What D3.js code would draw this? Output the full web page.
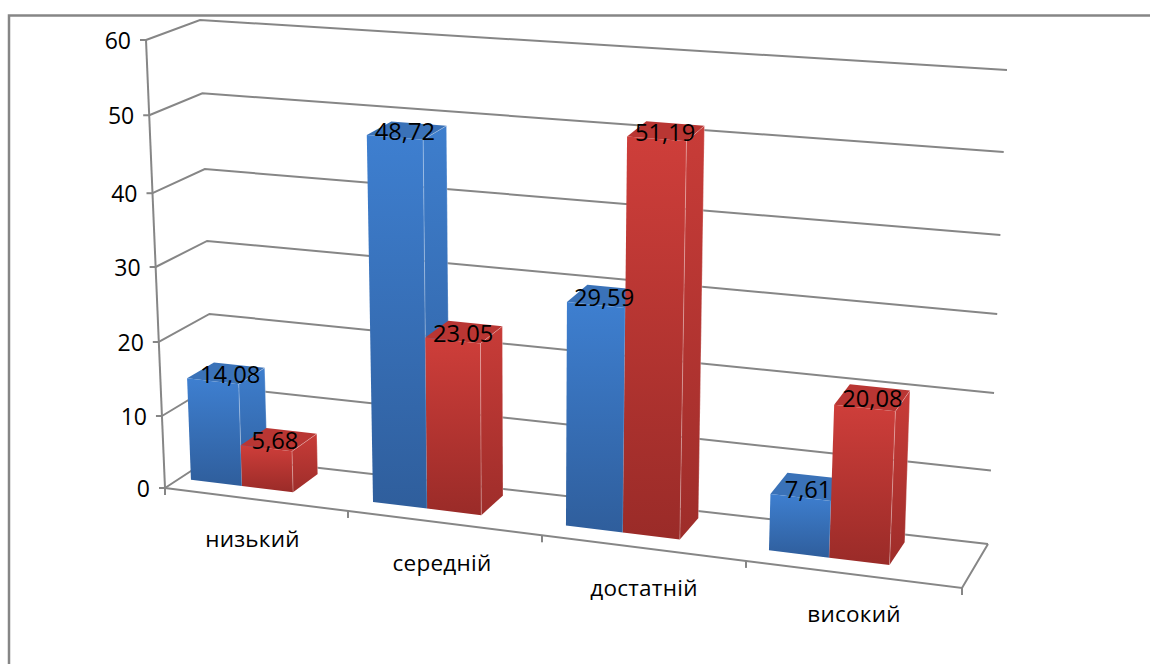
<!DOCTYPE html>
<html>
<head>
<meta charset="utf-8">
<script src="https://cdn.jsdelivr.net/npm/d3@7"></script>
<style>
  html, body { margin: 0; padding: 0; background: #fff; overflow: hidden; }
  text { font-family: "Open Sans", sans-serif; fill: #000; }
</style>
</head>
<body>
<script>
// Level distribution: two series across four achievement levels
const categories = ["низький", "середній", "достатній", "високий"];
const seriesBlue = [14.08, 48.72, 29.59, 7.61];
const seriesRed = [5.68, 23.05, 51.19, 20.08];
const valueTicks = [0, 10, 20, 30, 40, 50, 60];

const width = 1150, height = 664;
const svg = d3.select("body").append("svg").attr("width", width).attr("height", height);

// Corners of the 3D plot box as seen on the page
const box = {
  frontBottomLeft: [165, 488], frontBottomRight: [962, 588],
  backBottomLeft: [214, 456], backBottomRight: [988, 544],
  frontTopLeft: [146, 40], frontTopRight: [986, 101],
  backTopLeft: [200, 20], backTopRight: [1007, 70]
};

// Foreshortening along the category axis and along the value axis (near and far ends)
const posScale = d3.scaleLinear().domain([0, 1, 2, 3, 4]).range([0, 0.2296, 0.473, 0.729, 1]);
const valueScaleLeft = d3.scaleLinear().domain(valueTicks).range([0, 0.1607, 0.3259, 0.4933, 0.658, 0.832, 1]);
const valueScaleRight = d3.scaleLinear().domain(valueTicks).range([0, 0.155, 0.3186, 0.485, 0.652, 0.827, 1]);
const depthFront = 0.3, depthBack = 0.84;
const seriesBand = d3.scaleBand().domain([0, 1]).range([0.062, 0.625]);

const mix = (a, b, k) => [a[0] + (b[0] - a[0]) * k, a[1] + (b[1] - a[1]) * k];

// Maps (category position, depth 0..1, value) to page coordinates
function project(pos, depth, value) {
  const t = posScale(pos);
  const f = valueScaleLeft(value) + (valueScaleRight(value) - valueScaleLeft(value)) * t;
  const bottom = mix(mix(box.frontBottomLeft, box.frontBottomRight, t), mix(box.backBottomLeft, box.backBottomRight, t), depth);
  const top = mix(mix(box.frontTopLeft, box.frontTopRight, t), mix(box.backTopLeft, box.backTopRight, t), depth);
  return mix(bottom, top, f);
}

const lineGen = d3.line();
const polygon = pts => lineGen(pts) + "Z";
const axisColor = "#868686";

// Vertical gradients for bar faces
const defs = svg.append("defs");
function gradient(id, top, bottom) {
  const g = defs.append("linearGradient").attr("id", id).attr("x1", 0).attr("y1", 0).attr("x2", 0).attr("y2", 1);
  g.append("stop").attr("offset", 0).attr("stop-color", top);
  g.append("stop").attr("offset", 1).attr("stop-color", bottom);
}
gradient("blueFront", "#3e7fd0", "#2f5e9c");
gradient("blueSide", "#3e7ecd", "#2f5f9e");
gradient("redFront", "#ce3e3a", "#9a2b28");
gradient("redSide", "#c83c38", "#9e2d2a");

// Outer chart frame, running past the right and bottom page edges
svg.append("rect").attr("x", 9).attr("y", 15.5).attr("width", 1300).attr("height", 800)
  .attr("fill", "#fff").attr("stroke", axisColor).attr("stroke-width", 2.5);

// Wall gridlines and left axis ticks
const grid = svg.append("g").attr("fill", "none").attr("stroke", axisColor).attr("stroke-width", 2);
valueTicks.forEach(v => {
  const pts = [project(0, 0, v), project(0, 1, v), project(4, 1, v)];
  grid.append("path").attr("d", lineGen(pts));
  const p = pts[0];
  grid.append("path").attr("d", lineGen([[p[0] - 6, p[1]], p]));
});

// Vertical axis and floor outline
grid.append("path").attr("d", lineGen([project(0, 0, 0), project(0, 0, 60)]));
grid.append("path").attr("d", lineGen([project(0, 0, 0), project(4, 0, 0), project(4, 1, 0)]));
d3.range(0, categories.length + 1).forEach(i => {
  const p = project(i, 0, 0);
  grid.append("path").attr("d", lineGen([p, [p[0], p[1] + 7]]));
});

// Value axis labels
svg.append("g").selectAll("text").data(valueTicks).join("text")
  .attr("x", v => project(0, 0, v)[0] - 15)
  .attr("y", v => project(0, 0, v)[1])
  .attr("dy", "0.4em")
  .attr("text-anchor", "end")
  .attr("font-size", 23)
  .text(v => v);

// Category labels below the front floor edge
const categoryLabelDrop = 48;
svg.append("g").selectAll("text").data(categories).join("text")
  .attr("x", (c, i) => project(i + 0.5, 0, 0)[0] - (i === 0 ? 4 : 0) - (i === 1 ? 3 : 0))
  .attr("y", (c, i) => project(i + 0.5, 0, 0)[1] + categoryLabelDrop)
  .attr("text-anchor", "middle")
  .attr("font-size", 22.5)
  .attr("letter-spacing", 0.25)
  .text(c => c);

// Bars: side, top and front faces, blue series before red in each group
const barLayer = svg.append("g");
const labels = [];
const seriesList = [
  { values: seriesBlue, front: "url(#blueFront)", side: "url(#blueSide)", top: "#3a72b8" },
  { values: seriesRed, front: "url(#redFront)", side: "url(#redSide)", top: "#b93633" }
];
categories.forEach((c, i) => {
  seriesList.forEach((s, si) => {
    const v = s.values[i];
    const x0 = i + seriesBand(si), x1 = x0 + seriesBand.bandwidth();
    const P = (x, d, val) => project(x, d, val);
    barLayer.append("path").attr("fill", s.side)
      .attr("d", polygon([P(x1, depthFront, 0), P(x1, depthBack, 0), P(x1, depthBack, v), P(x1, depthFront, v)]));
    barLayer.append("path").attr("fill", s.top)
      .attr("d", polygon([P(x0, depthFront, v), P(x1, depthFront, v), P(x1, depthBack, v), P(x0, depthBack, v)]));
    barLayer.append("path").attr("fill", s.front)
      .attr("d", polygon([P(x0, depthFront, 0), P(x1, depthFront, 0), P(x1, depthFront, v), P(x0, depthFront, v)]));
    // Thin highlights along the bar's right-hand edges
    barLayer.append("path").attr("fill", "none").attr("stroke", "#fff").attr("stroke-opacity", 0.3).attr("stroke-width", 1)
      .attr("d", lineGen([P(x1, depthFront, 0), P(x1, depthFront, v), P(x1, depthBack, v), P(x1, depthBack, 0)]));
    const at = P((x0 + x1) / 2, (depthFront + depthBack) / 2, v);
    labels.push({ v, at, series: si, cat: i });
  });
});

// Data labels sit on the bar tops, with per-label offsets to clear neighbouring bars
const decimalFormat = d3.formatLocale({ decimal: ",", thousands: " ", grouping: [3], currency: ["", ""] }).format(".2f");
const labelNudge = [[4, 1], [-4, 1], [-2, 1], [-1, 1], [-2, 1], [-1, 1], [-1, 3], [0, 1]];
svg.append("g").selectAll("text").data(labels).join("text")
  .attr("x", (d, i) => d.at[0] + labelNudge[i][0])
  .attr("y", (d, i) => d.at[1] + labelNudge[i][1])
  .attr("dy", "0.36em")
  .attr("text-anchor", "middle")
  .attr("font-size", 23.7)
  .text(d => decimalFormat(d.v));
</script>
</body>
</html>
